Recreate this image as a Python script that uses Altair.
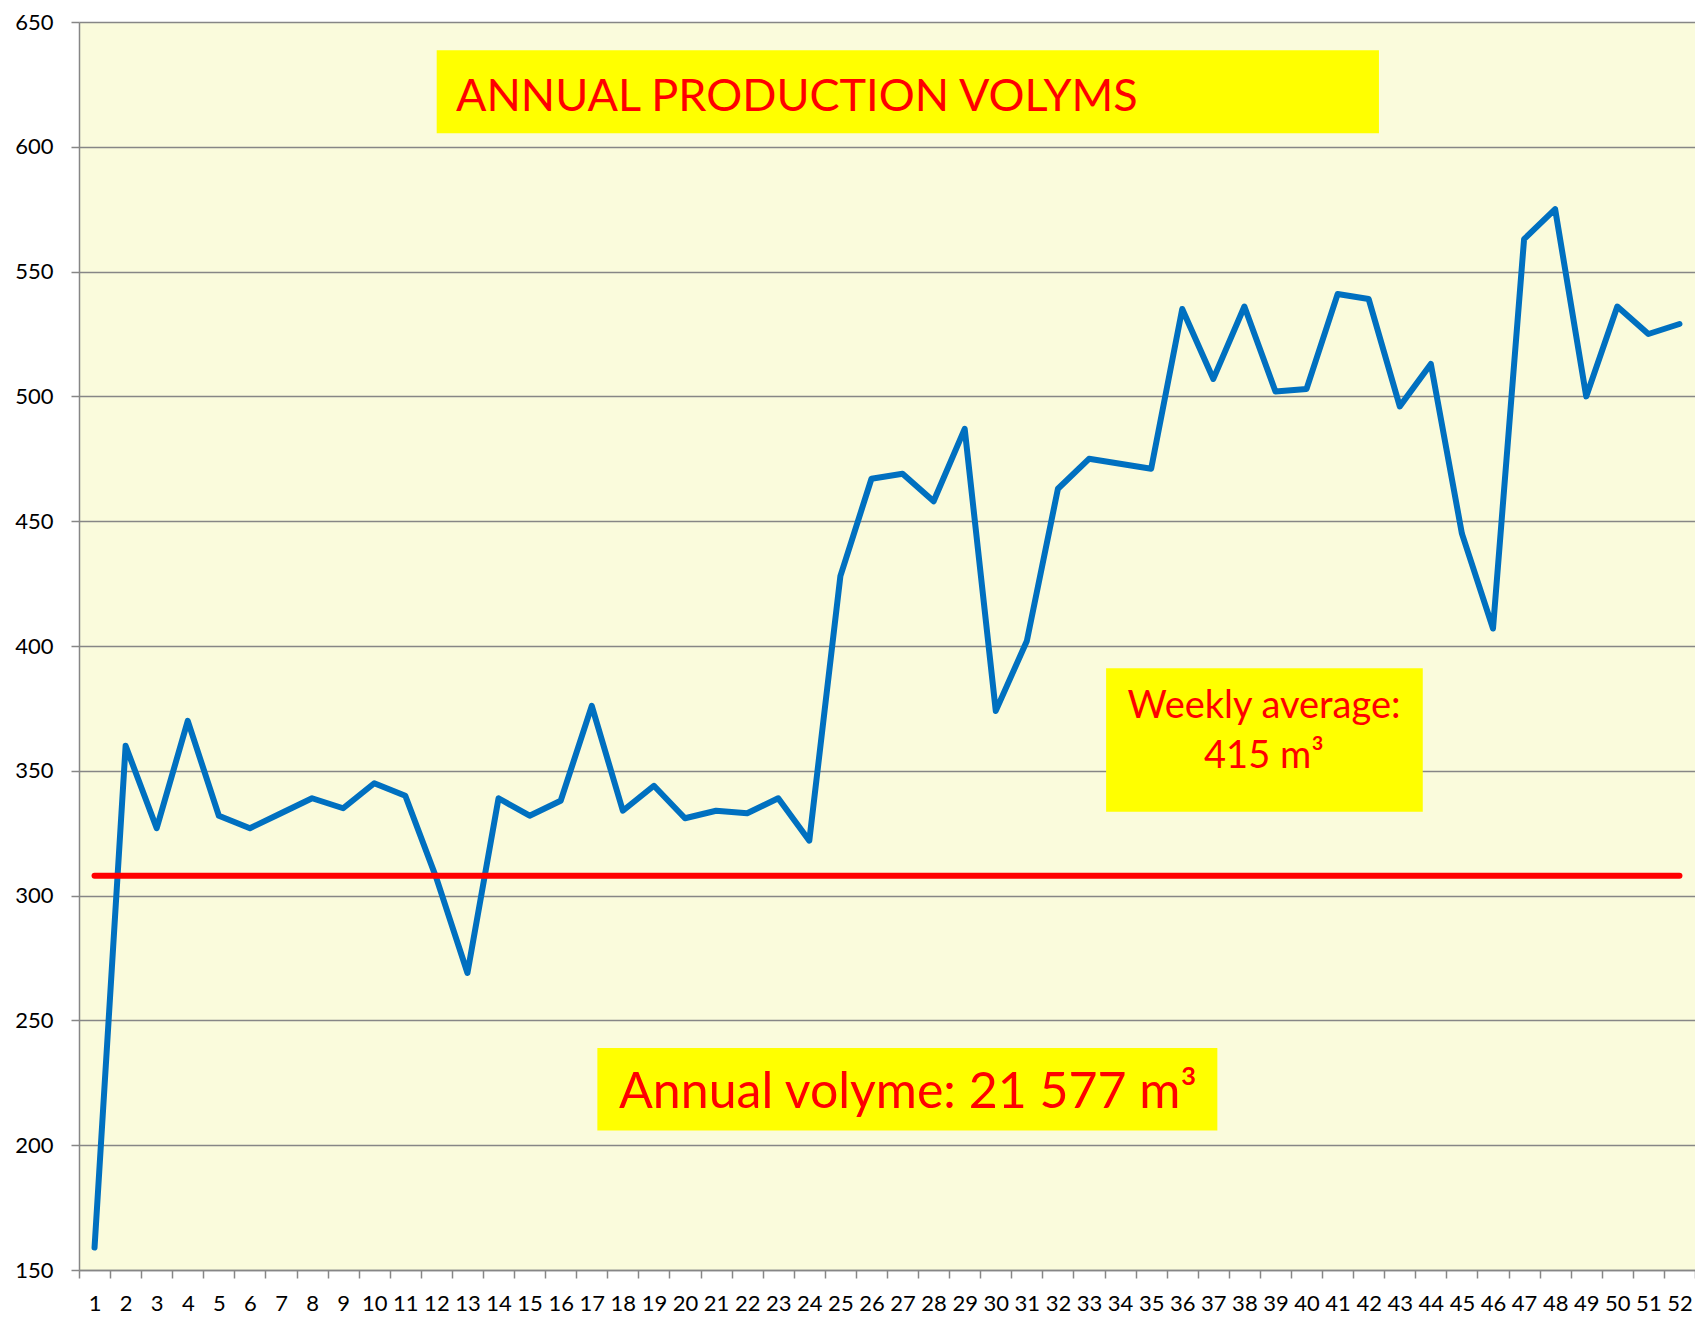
import altair as alt
import pandas as pd

# ---------------- data ----------------
weeks = list(range(1, 53))
volumes = [159, 360, 327, 370, 332, 327, 333, 339, 335, 345,
           340, 307, 269, 339, 332, 338, 376, 334, 344, 331,
           334, 333, 339, 322, 428, 467, 469, 458, 487, 374,
           402, 463, 475, 473, 471, 535, 507, 536, 502, 503,
           541, 539, 496, 513, 445, 407, 563, 575, 500, 536,
           525, 529]
avg_weeks = [1, 52]
avg_values = [308, 308]
y_ticks = list(range(150, 651, 50))
x_tick_values = [i / 2 for i in range(1, 106)]  # band edges and centres

title_text = "ANNUAL PRODUCTION VOLYMS"
weekly_line1 = "Weekly average:"
weekly_line2 = "415 m³"
annual_text = "Annual volyme: 21 577 m³"

df = pd.DataFrame({"week": weeks, "volume": volumes})
avg_df = pd.DataFrame({"week": avg_weeks, "volume": avg_values})

# annotation boxes (data coordinates)
boxes = pd.DataFrame({
    "x1": [12.01, 33.55, 17.18],
    "x2": [42.33, 43.74, 37.13],
    "y1": [638.7, 391.1, 238.9],
    "y2": [605.4, 333.6, 205.9],
})
title_df = pd.DataFrame({"x": [12.63], "y": [614.5], "t": [title_text]})
weekly_df = pd.DataFrame({"x": [38.63, 38.63], "y": [371.2, 351.0],
                          "t": [weekly_line1, weekly_line2]})
annual_df = pd.DataFrame({"x": [17.88], "y": [214.9], "t": [annual_text]})

FONT = "Lato"
GRID = "#868686"
x_scale = alt.Scale(domain=[0.5, 52.5], nice=False, zero=False)
y_scale = alt.Scale(domain=[150, 650], nice=False, zero=False)

x_axis = alt.Axis(
    values=x_tick_values,
    labelExpr="datum.value % 1 === 0 ? toString(datum.value) : ''",
    tickOpacity={"condition": {"test": "datum.value % 1 === 0", "value": 0}, "value": 1},
    grid=False, title=None, labelOverlap=False, labelFlush=False,
    tickSize=8, tickColor=GRID, tickWidth=1.5,
    domainColor=GRID, domainWidth=1.5,
    labelFont=FONT, labelFontSize=22, labelColor="black", labelPadding=15,
)
y_axis = alt.Axis(
    values=y_ticks, grid=True, gridColor=GRID, gridWidth=1.5, title=None,
    tickSize=8, tickColor=GRID, tickWidth=1.5,
    domainColor=GRID, domainWidth=1.5,
    labelFont=FONT, labelFontSize=22, labelColor="black", labelPadding=18,
)

base_x = alt.X("week:Q", scale=x_scale, axis=x_axis)
base_y = alt.Y("volume:Q", scale=y_scale, axis=y_axis)

rects = alt.Chart(boxes).mark_rect(color="#FFFF00").encode(
    x=alt.X("x1:Q", scale=x_scale, axis=x_axis),
    x2="x2:Q",
    y=alt.Y("y1:Q", scale=y_scale, axis=y_axis),
    y2="y2:Q",
)

line = alt.Chart(df).mark_line(
    color="#0070C0", strokeWidth=6, strokeCap="round", strokeJoin="round"
).encode(x=base_x, y=base_y)

avg_line = alt.Chart(avg_df).mark_line(
    color="#FF0000", strokeWidth=6, strokeCap="round"
).encode(x=base_x, y=base_y)

title_mark = alt.Chart(title_df).mark_text(
    align="left", baseline="alphabetic", font=FONT, fontSize=45, color="#FF0000"
).encode(x=alt.X("x:Q", scale=x_scale, axis=x_axis),
         y=alt.Y("y:Q", scale=y_scale, axis=y_axis), text="t:N")

weekly_mark = alt.Chart(weekly_df).mark_text(
    align="center", baseline="alphabetic", font=FONT, fontSize=38, color="#FF0000"
).encode(x=alt.X("x:Q", scale=x_scale, axis=x_axis),
         y=alt.Y("y:Q", scale=y_scale, axis=y_axis), text="t:N")

annual_mark = alt.Chart(annual_df).mark_text(
    align="left", baseline="alphabetic", font=FONT, fontSize=50, color="#FF0000"
).encode(x=alt.X("x:Q", scale=x_scale, axis=x_axis),
         y=alt.Y("y:Q", scale=y_scale, axis=y_axis), text="t:N")

chart = alt.layer(
    rects, line, avg_line, title_mark, weekly_mark, annual_mark
).properties(
    width=1616, height=1248, autosize="none",
    padding={"left": 71, "top": 14, "right": 0, "bottom": 50},
    background="white",
).configure_view(fill="#FAFBDC", stroke="transparent")

chart.save("out.html", embed_options={"renderer": "svg", "actions": False})
